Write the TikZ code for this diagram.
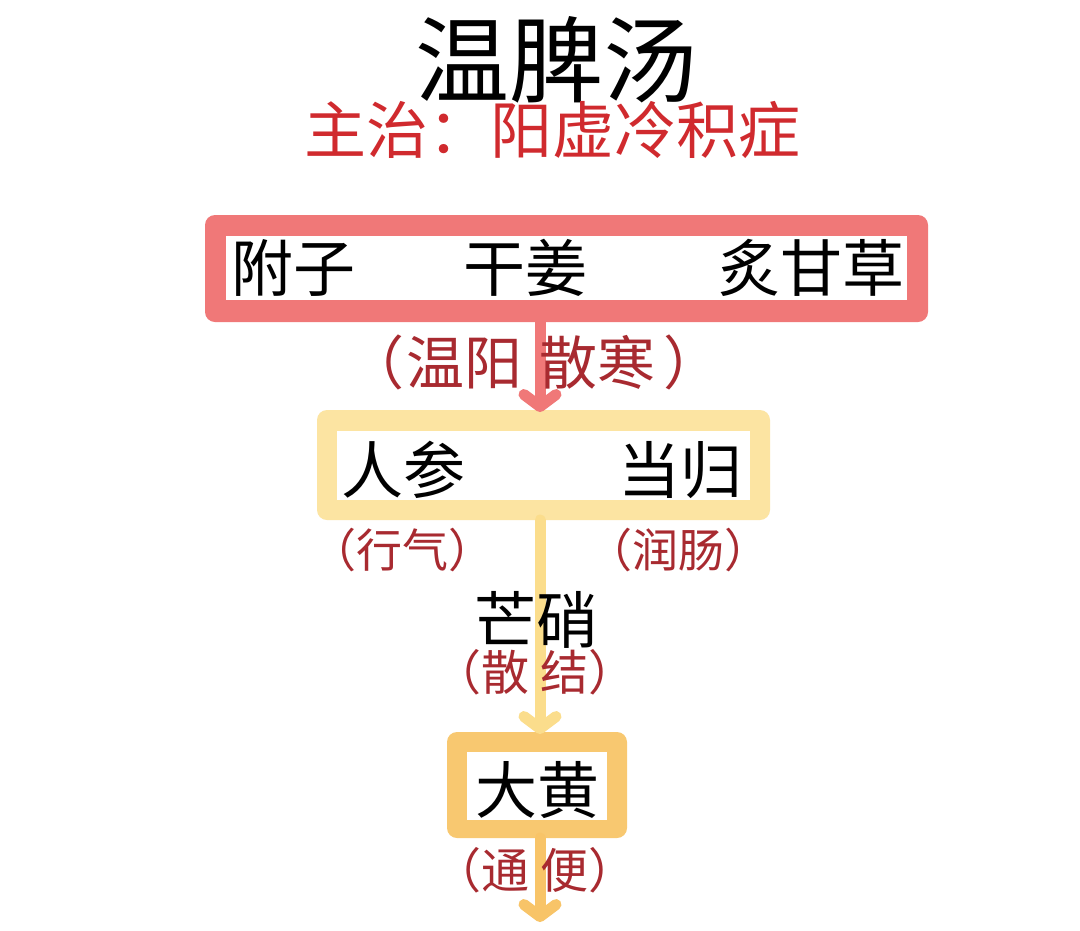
\documentclass[tikz,border=0pt]{standalone}
\usepackage{fontspec}
\setmainfont{Noto Sans CJK SC}
\usetikzlibrary{arrows.meta}
\definecolor{boxred}{HTML}{F07878}
\definecolor{boxyellow}{HTML}{FCE4A2}
\definecolor{boxorange}{HTML}{F8C870}
\definecolor{lineyellow}{HTML}{FBDD8C}
\definecolor{lineorange}{HTML}{F8C468}
\definecolor{subred}{HTML}{D02A2E}
\definecolor{labred}{HTML}{A82A30}
\tikzset{
  herb/.style={inner sep=0pt, font=\fontsize{62}{62}\selectfont, text=black},
  lab/.style={inner sep=0pt, text=labred},
  flow/.style={line width=11pt, line cap=round, -{Straight Barb[length=12pt,width=32pt,round]}},
}
\begin{document}
\begin{tikzpicture}[x=1pt,y=-1pt]
\useasboundingbox (0,0) rectangle (1080,930);
\fill[white] (0,0) rectangle (1080,930);
\coordinate (endbottom) at (540,922);
% boxes
\fill[boxred, rounded corners=10pt] (205,215) rectangle (928,322);
\fill[white] (226,236) rectangle (907,300);
\fill[boxyellow, rounded corners=10pt] (317,410) rectangle (770,520);
\fill[white] (337,431) rectangle (750,500);
\fill[boxorange, rounded corners=10pt] (447,732) rectangle (627,838);
\fill[white] (467,752) rectangle (607,820);
\node[inner sep=0pt, font=\fontsize{94}{94}\selectfont] (title) at (556,60) {温脾汤};
\node[inner sep=0pt, text=subred, font=\fontsize{62}{62}\selectfont] (sub) at (552,130) {主治：阳虚冷积症};
\coordinate (redtop) at (540,322);
\coordinate (yeltop) at (540,412);
\coordinate (yelbot) at (540,520);
\coordinate (orgtop) at (540,734);
\coordinate (orgbot) at (540,838);
\draw[flow, boxred] (redtop) -- (yeltop);
\draw[flow, lineyellow] (yelbot) -- (orgtop);
\draw[flow, lineorange] (orgbot) -- (endbottom);
\node[herb] (fuzi) at (293,268) {附子};
\node[herb] (ganjiang) at (525,268) {干姜};
\node[herb] (zhigancao) at (811,268) {炙甘草};
\node[lab, font=\fontsize{58}{58}\selectfont] (l1) at (534,362) {（\hspace{3pt}温阳\hspace{4pt} 散寒\hspace{8pt}）};
\node[herb] (renshen) at (403,470) {人参};
\node[herb] (danggui) at (680,470) {当归};
\node[lab, font=\fontsize{46}{46}\selectfont] (l2) at (402,550) {（行气）};
\node[lab, font=\fontsize{46}{46}\selectfont] (l3) at (678,550) {（润肠）};
\node[herb] (mangxiao) at (536,620) {芒硝};
\node[lab, font=\fontsize{48}{48}\selectfont] (l4) at (535,672) {（散 结）};
\node[herb] (dahuang) at (537,790) {大黄};
\node[lab, font=\fontsize{48}{48}\selectfont] (l5) at (535,870) {（通 便）};
\end{tikzpicture}
\end{document}
